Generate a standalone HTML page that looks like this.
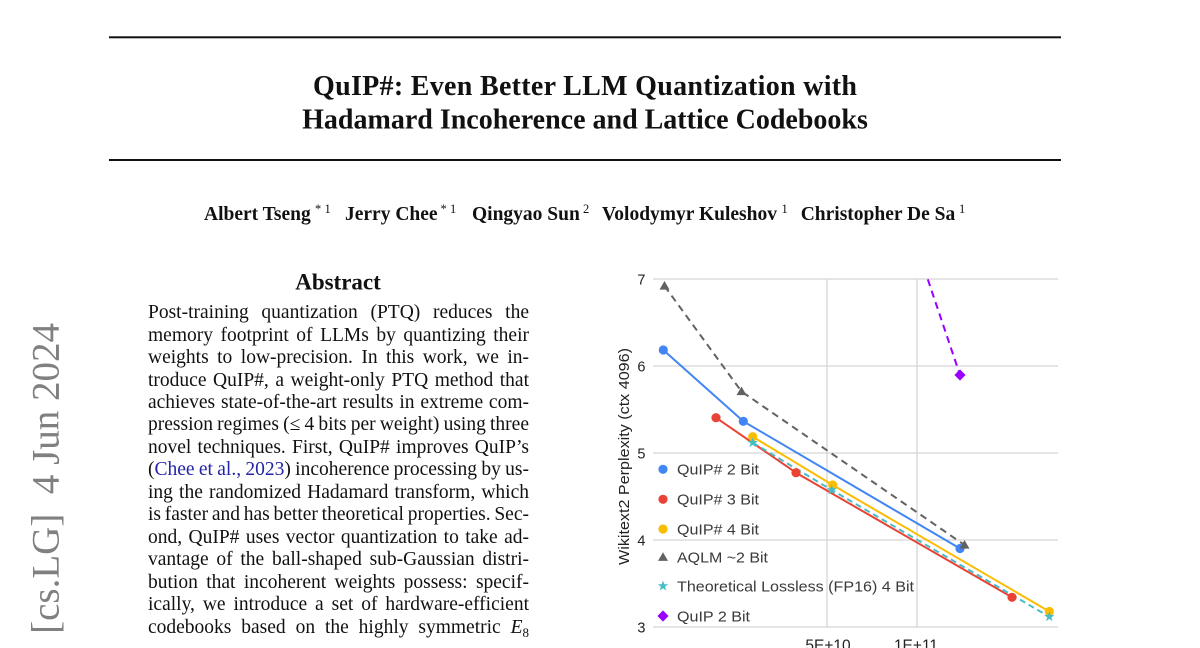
<!DOCTYPE html>
<html>
<head>
<meta charset="utf-8">
<style>
  html,body{margin:0;padding:0;background:#fff;}
  body{width:1200px;height:648px;overflow:hidden;position:relative;}
  svg{position:absolute;left:0;top:0;}
  .ab{position:absolute;left:148px;width:381px;height:22.45px;line-height:22.45px;
      font-family:"Liberation Serif","Times New Roman",serif;font-size:19.5px;color:#111;
      text-align:justify;text-align-last:justify;word-spacing:-2px;overflow:visible;}
  .cite{color:#2424a8;}
  sub{font-size:13px;vertical-align:-4px;line-height:0;}
</style>
</head>
<body>
<svg width="1200" height="648" viewBox="0 0 1200 648" xmlns="http://www.w3.org/2000/svg">
  <defs>
    <path id="star" d="M0,-5.5 L1.29,-1.78 5.23,-1.7 2.09,0.68 3.23,4.45 0,2.2 -3.23,4.45 -2.09,0.68 -5.23,-1.7 -1.29,-1.78Z"/>
    <path id="tri" d="M0,-5 L5,3.6 L-5,3.6Z"/>
    <path id="dia" d="M0,-5.6 L5.6,0 L0,5.6 L-5.6,0Z"/>
    <clipPath id="plot"><rect x="640" y="278.5" width="430" height="370"/></clipPath>
  </defs>

  <!-- rules -->
  <rect x="109" y="36.3" width="952" height="2" fill="#111"/>
  <rect x="109" y="159" width="952" height="2" fill="#111"/>

  <!-- title -->
  <g font-family="Liberation Serif, Times New Roman, serif" font-weight="bold" fill="#111">
    <text x="585" y="95" font-size="28" text-anchor="middle" textLength="544" lengthAdjust="spacing">QuIP#: Even Better LLM Quantization with</text>
    <text x="585" y="128.5" font-size="28" text-anchor="middle">Hadamard Incoherence and Lattice Codebooks</text>
  </g>

  <!-- authors -->
  <g font-family="Liberation Serif, Times New Roman, serif" fill="#111">
    <text x="204" y="220" font-size="19.5" font-weight="bold">Albert Tseng</text>
    <text x="315" y="213" font-size="12.5">*</text>
    <text x="324.5" y="213" font-size="12.5">1</text>
    <text x="345" y="220" font-size="19.5" font-weight="bold">Jerry Chee</text>
    <text x="440.5" y="213" font-size="12.5">*</text>
    <text x="450" y="213" font-size="12.5">1</text>
    <text x="472" y="220" font-size="19.5" font-weight="bold">Qingyao Sun</text>
    <text x="583" y="213" font-size="12.5">2</text>
    <text x="602" y="220" font-size="19.5" font-weight="bold">Volodymyr Kuleshov</text>
    <text x="781.5" y="213" font-size="12.5">1</text>
    <text x="800.7" y="220" font-size="19.5" font-weight="bold">Christopher De Sa</text>
    <text x="959" y="213" font-size="12.5">1</text>
  </g>

  <!-- arXiv stamp -->
  <text transform="translate(58.5,323) rotate(-90)" text-anchor="end" font-family="Liberation Serif, Times New Roman, serif" font-size="39" fill="#808080">arXiv:2402.04396v2&#160;&#160;[cs.LG]&#160;&#160;4 Jun 2024</text>

  <!-- Abstract heading -->
  <text x="338" y="289.5" text-anchor="middle" font-family="Liberation Serif, Times New Roman, serif" font-weight="bold" font-size="23" fill="#111">Abstract</text>

  <!-- ===== Chart ===== -->
  <g stroke="#d5d5d5" stroke-width="1.3" fill="none">
    <line x1="653" y1="279" x2="1058" y2="279"/>
    <line x1="653" y1="366" x2="1058" y2="366"/>
    <line x1="653" y1="453" x2="1058" y2="453"/>
    <line x1="653" y1="540" x2="1058" y2="540"/>
    <line x1="827" y1="279" x2="827" y2="627"/>
    <line x1="917" y1="279" x2="917" y2="627"/>
    <line x1="653" y1="627" x2="1058" y2="627"/>
  </g>

  <g font-family="Liberation Sans, Arial, sans-serif" font-size="14.5" fill="#222" text-anchor="end">
    <text x="645.5" y="284.3">7</text>
    <text x="645.5" y="371.3">6</text>
    <text x="645.5" y="458.3">5</text>
    <text x="645.5" y="545.3">4</text>
    <text x="645.5" y="632.3">3</text>
  </g>
  <g font-family="Liberation Sans, Arial, sans-serif" font-size="15.5" fill="#222" text-anchor="middle">
    <text x="828" y="650.5">5E+10</text>
    <text x="916" y="650.5">1E+11</text>
  </g>
  <text transform="translate(629,456.5) rotate(-90)" text-anchor="middle" font-family="Liberation Sans, Arial, sans-serif" font-size="14.5" fill="#222" textLength="217" lengthAdjust="spacingAndGlyphs">Wikitext2 Perplexity (ctx 4096)</text>

  <g clip-path="url(#plot)" fill="none" stroke-width="2">
    <line x1="924" y1="268" x2="960" y2="375" stroke="#9a00ff" stroke-dasharray="7 5"/>
  </g>
  <g fill="none" stroke-width="2" stroke-linejoin="round">
    <polyline points="663.3,350 743.3,421.3 960,548.5" stroke="#4285f4"/>
    <polyline points="716,417.7 796,472.7 1012,597.3" stroke="#ea4335"/>
    <polyline points="752.7,436.7 832.7,485 1049.3,611.5" stroke="#fbbc04"/>
    <polyline points="664.5,286 741.5,391.5 964.5,545" stroke="#626262" stroke-dasharray="7 5"/>
    <polyline points="752.7,442.7 831.7,490 1049.3,616.7" stroke="#46bdc6" stroke-dasharray="6 4"/>
  </g>

  <!-- markers -->
  <g fill="#4285f4">
    <circle cx="663.3" cy="350" r="4.6"/><circle cx="743.3" cy="421.3" r="4.6"/><circle cx="960" cy="548.5" r="4.6"/>
  </g>
  <g fill="#ea4335">
    <circle cx="716" cy="417.7" r="4.6"/><circle cx="796" cy="472.7" r="4.6"/><circle cx="1012" cy="597.3" r="4.6"/>
  </g>
  <g fill="#fbbc04">
    <circle cx="752.7" cy="436.7" r="4.6"/><circle cx="832.7" cy="485" r="4.6"/><circle cx="1049.3" cy="611.5" r="4.6"/>
  </g>
  <g fill="#626262">
    <use href="#tri" x="664.5" y="286"/><use href="#tri" x="741.5" y="391.5"/><use href="#tri" x="964.5" y="545"/>
  </g>
  <g fill="#46bdc6">
    <use href="#star" x="752.7" y="442.7"/><use href="#star" x="831.7" y="490"/><use href="#star" x="1049.3" y="616.7"/>
  </g>
  <use href="#dia" x="960" y="375" fill="#9a00ff"/>

  <!-- legend -->
  <circle cx="663" cy="469.3" r="4.6" fill="#4285f4"/>
  <circle cx="663" cy="499.3" r="4.6" fill="#ea4335"/>
  <circle cx="663" cy="529" r="4.6" fill="#fbbc04"/>
  <use href="#tri" x="663" y="557.3" fill="#626262"/>
  <use href="#star" x="663" y="586" fill="#46bdc6"/>
  <use href="#dia" x="663" y="616" fill="#9a00ff"/>
  <g font-family="Liberation Sans, Arial, sans-serif" font-size="15" fill="#3a3a3a">
    <text x="677" y="474.6" textLength="82" lengthAdjust="spacingAndGlyphs">QuIP# 2 Bit</text>
    <text x="677" y="504.6" textLength="82" lengthAdjust="spacingAndGlyphs">QuIP# 3 Bit</text>
    <text x="677" y="534.3" textLength="82" lengthAdjust="spacingAndGlyphs">QuIP# 4 Bit</text>
    <text x="677" y="562.6" textLength="91" lengthAdjust="spacingAndGlyphs">AQLM ~2 Bit</text>
    <text x="677" y="591.3" textLength="237" lengthAdjust="spacingAndGlyphs">Theoretical Lossless (FP16) 4 Bit</text>
    <text x="677" y="621.3" textLength="73" lengthAdjust="spacingAndGlyphs">QuIP 2 Bit</text>
  </g>
</svg>

<!-- Abstract body -->
<div class="ab" style="top:302.2px">Post-training quantization (PTQ) reduces the</div>
<div class="ab" style="top:324.65px">memory footprint of LLMs by quantizing their</div>
<div class="ab" style="top:347.1px">weights to low-precision. In this work, we in-</div>
<div class="ab" style="top:369.55px">troduce QuIP#, a weight-only PTQ method that</div>
<div class="ab" style="top:392px">achieves state-of-the-art results in extreme com-</div>
<div class="ab" style="top:414.45px">pression regimes (&#8804; 4 bits per weight) using three</div>
<div class="ab" style="top:436.9px">novel techniques. First, QuIP# improves QuIP&#8217;s</div>
<div class="ab" style="top:459.35px">(<span class="cite">Chee et al., 2023</span>) incoherence processing by us-</div>
<div class="ab" style="top:481.8px">ing the randomized Hadamard transform, which</div>
<div class="ab" style="top:504.25px">is faster and has better theoretical properties. Sec-</div>
<div class="ab" style="top:526.7px">ond, QuIP# uses vector quantization to take ad-</div>
<div class="ab" style="top:549.15px">vantage of the ball-shaped sub-Gaussian distri-</div>
<div class="ab" style="top:571.6px">bution that incoherent weights possess: specif-</div>
<div class="ab" style="top:594.05px">ically, we introduce a set of hardware-efficient</div>
<div class="ab" style="top:616.5px">codebooks based on the highly symmetric <i>E</i><sub>8</sub></div>
</body>
</html>
